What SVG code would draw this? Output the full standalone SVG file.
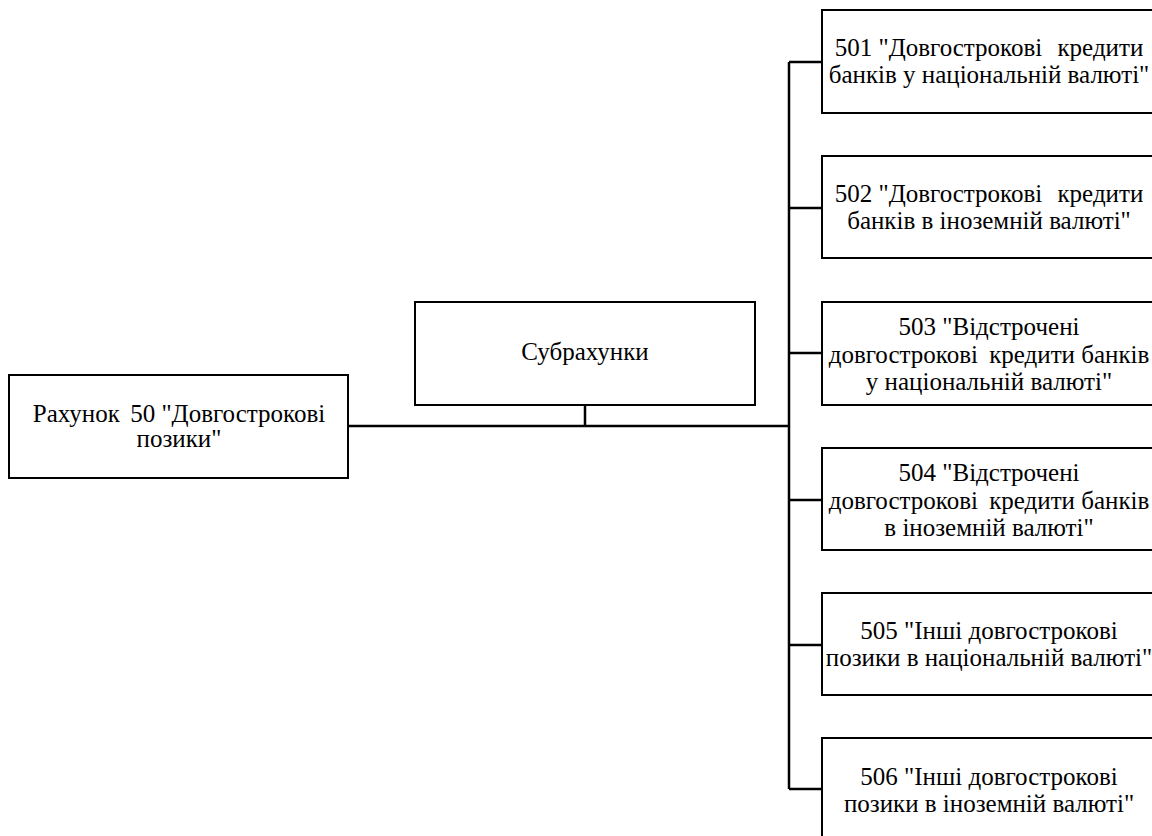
<svg xmlns="http://www.w3.org/2000/svg" width="1152" height="836" viewBox="0 0 1152 836">
<style>
.box{fill:#fff;stroke:#000;stroke-width:2}
.ln{fill:none;stroke:#000;stroke-width:2.5}
text{font-family:"Liberation Serif","Times New Roman",serif;font-size:25px;fill:#000;text-anchor:middle}
</style>
<rect width="1152" height="836" fill="#fff"/>
<g id="connectors">
<line class="ln" x1="349" y1="426" x2="789" y2="426"/>
<line class="ln" x1="585" y1="405" x2="585" y2="426"/>
<line class="ln" x1="789" y1="62" x2="789" y2="789"/>
<line class="ln" x1="789" y1="62" x2="822" y2="62"/>
<line class="ln" x1="789" y1="208" x2="822" y2="208"/>
<line class="ln" x1="789" y1="353" x2="822" y2="353"/>
<line class="ln" x1="789" y1="500" x2="822" y2="500"/>
<line class="ln" x1="789" y1="645" x2="822" y2="645"/>
<line class="ln" x1="789" y1="789" x2="822" y2="789"/>
</g>
<g id="n50">
<rect class="box" x="9" y="375" width="339" height="103"/>
<text x="179" y="421.5">Рахунок<tspan dx="4"> 50 "Довгострокові</tspan></text>
<text x="179" y="446.5">позики"</text>
</g>
<g id="sub">
<rect class="box" x="415" y="302" width="340" height="103"/>
<text x="585" y="360">Субрахунки</text>
</g>
<g id="n501">
<rect class="box" x="822" y="10" width="340" height="103"/>
<text x="989" y="56">501 "Довгострокові<tspan dx="9"> кредити</tspan></text>
<text x="989" y="83">банків у національній валюті"</text>
</g>
<g id="n502">
<rect class="box" x="822" y="156" width="340" height="102"/>
<text x="989" y="201.5">502 "Довгострокові<tspan dx="9"> кредити</tspan></text>
<text x="989" y="228.5">банків в іноземній валюті"</text>
</g>
<g id="n503">
<rect class="box" x="822" y="302" width="340" height="103"/>
<text x="989" y="335">503 "Відстрочені</text>
<text x="989" y="363">довгострокові<tspan dx="5"> кредити банків</tspan></text>
<text x="989" y="390">у національній валюті"</text>
</g>
<g id="n504">
<rect class="box" x="822" y="448" width="340" height="102"/>
<text x="989" y="480.5">504 "Відстрочені</text>
<text x="989" y="508.5">довгострокові<tspan dx="5"> кредити банків</tspan></text>
<text x="989" y="535.5">в іноземній валюті"</text>
</g>
<g id="n505">
<rect class="box" x="822" y="593" width="340" height="102"/>
<text x="989" y="639">505 "Інші довгострокові</text>
<text x="989" y="666">позики в національній валюті"</text>
</g>
<g id="n506">
<rect class="box" x="822" y="738" width="340" height="102"/>
<text x="989" y="785">506 "Інші довгострокові</text>
<text x="989" y="812">позики в іноземній валюті"</text>
</g>
</svg>
